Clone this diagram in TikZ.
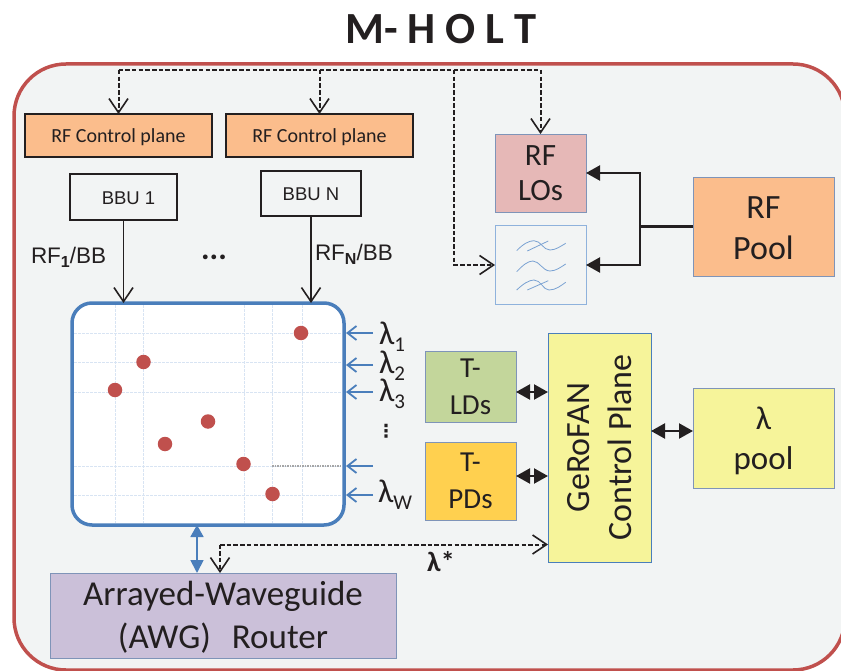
\documentclass[tikz,border=0pt]{standalone}
\usepackage{fontspec}
\setmainfont{Carlito}
\newfontfamily\arialf{Liberation Sans}
\newfontfamily\dejavuf{DejaVu Sans}
\usetikzlibrary{arrows.meta,calc}
\definecolor{ink}{HTML}{231F20}
\definecolor{panelfill}{HTML}{F2F4F4}
\definecolor{redline}{HTML}{C0504D}
\definecolor{blueline}{HTML}{4A7EBB}
\definecolor{pale}{HTML}{8FB2DC}
\definecolor{greyblue}{HTML}{7F94B8}
\definecolor{orangefill}{HTML}{FBBD8C}
\definecolor{pinkfill}{HTML}{E6B8B7}
\definecolor{greenfill}{HTML}{C3D69B}
\definecolor{goldfill}{HTML}{FFD04F}
\definecolor{yellowfill}{HTML}{F6F49A}
\definecolor{purplefill}{HTML}{CBC0D9}
\newcommand{\fs}[1]{\fontsize{#1}{#1}\selectfont}
\newcommand{\dn}[2]{\raisebox{-#1pt}[\height][\depth]{#2}}
\newcommand{\lamsub}[1]{λ\raisebox{-7pt}[0pt][0pt]{\fs{21}#1}}
\tikzset{
  x=1pt,y=-1pt,
  every node/.style={text=ink,inner sep=0pt,outer sep=0pt,align=center},
  box/.style args={#1x#2}{minimum width=#1pt,minimum height=#2pt,anchor=center},
  ctrlbox/.style={box=187x43,fill=orangefill,draw=ink,line width=1.4pt,font=\fs{20}},
  bbubox/.style={draw=ink,fill=panelfill,line width=1.4pt,font=\arialf\fs{18.5}},
  softbox/.style={draw=greyblue,line width=0.8pt},
  bluebox/.style={draw=blueline,line width=1pt},
  open/.style={-{Straight Barb[length=14pt,width=19pt,line width=1.6pt]}},
  dashline/.style={draw=ink,line width=2pt,dash pattern=on 4.5pt off 2.2pt},
  solid1/.style={draw=ink,line width=1.7pt},
  heavy/.style={draw=ink,line width=2.2pt},
  filltip/.style={-{Triangle[length=14pt,width=15pt]}},
  fillboth/.style={{Triangle[length=14pt,width=15pt]}-{Triangle[length=14pt,width=15pt]}},
  wl/.style={draw=blueline,line width=1.8pt,-{Straight Barb[length=9pt,width=14pt,line width=1.8pt]}},
  gridl/.style={draw=pale!35,line width=0.7pt,dash pattern=on 2.5pt off 1.5pt},
  dot/.style={circle,fill=redline,minimum size=14.5pt},
  wave/.style={draw=pale!70!blueline,line width=0.8pt},
  lamlbl/.style={font=\fs{33},anchor=base west},
}
\begin{document}
\begin{tikzpicture}
\useasboundingbox (0,0) rectangle (841,671);
\clip (0,0) rectangle (841,671);
\draw[draw=redline,fill=panelfill,line width=3.5pt,rounded corners=52pt] (14,64) rectangle (845,670);
\node[font=\bfseries\fs{44.5}] (title) at (441,29) {M- H O L T};

\node[ctrlbox] (rf1) at (118.5,135.5) {\dn{2}{RF Control plane}};
\node[ctrlbox] (rf2) at (319.5,135.5) {\dn{2}{RF Control plane}};
\node[bbubox,box=107x46] (bbu1) at (123.5,197) {\hspace*{10pt}\dn{1}{BBU 1}};
\node[bbubox,box=100x45] (bbuN) at (311,193.5) {\dn{1}{BBU N}};
\node[softbox,box=91x78,fill=pinkfill,font=\fs{31}] (los) at (540.5,173) {RF\\[4pt]LOs};
\node[box=91x78,draw=pale,line width=1pt,fill=panelfill] (filt) at (540.5,265) {};
\node[softbox,box=141x99,fill=orangefill,font=\fs{34}] (pool) at (763.5,226.5) {\dn{2}{RF}\\[7pt]\dn{2}{Pool}};

\draw[wave] (516.7,250.7) .. controls (523,244) and (529,240.7) .. (534,240.7) .. controls (541,240.7) and (543,250) .. (550,250) .. controls (556,250) and (561,246) .. (565.7,243.3);
\draw[wave] (527.3,251) -- (548.3,241);
\draw[wave] (516.7,271.7) .. controls (523,265) and (528,261) .. (533,261) .. controls (539,261) and (543,271) .. (550,271) .. controls (556,271) and (561,267) .. (565.7,264);
\draw[wave] (516.7,290) .. controls (523,284) and (529,280) .. (534,280) .. controls (541,280) and (543,290) .. (549,290) .. controls (556,290) and (561,285.5) .. (565.7,282.3);
\draw[wave] (527.3,290) -- (548.3,280.7);

\node[draw=blueline,fill=white,line width=3.5pt,rounded corners=20pt,box=272x222] (matrix) at (208,414) {};
\foreach \v in {115,143,244,272,302}{
  \draw[gridl] (\v,305) -- (\v,523);
}
\foreach \h in {333,362,392,466,495}{
  \draw[gridl] (74,\h) -- (342,\h);
}
\draw[draw=black!35,line width=1.2pt,dash pattern=on 1.5pt off 1pt] (272,466) -- (342,466);
\node[dot] (d1) at (301,333) {};
\node[dot] (d2) at (143.5,362) {};
\node[dot] (d3) at (115,390) {};
\node[dot] (d4) at (208,421.5) {};
\node[dot] (d5) at (165,444) {};
\node[dot] (d6) at (243.5,464) {};
\node[dot] (d7) at (272.5,494) {};

\node[softbox,box=91x71,fill=greenfill,font=\fs{29}] (ld) at (470.5,386.5) {T-\\[8pt]LDs};
\node[softbox,box=91x78,fill=goldfill,font=\fs{29}] (pd) at (470.5,481) {T-\\[8pt]PDs};
\node[bluebox,box=103x229,fill=yellowfill] (ctrl) at (599.5,447.5) {};
\node[font=\fs{34},rotate=90] (ctrltxt) at (600,447.5) {GeRoFAN\\[8pt]Control Plane};
\node[softbox,box=141x100,fill=yellowfill,font=\fs{33}] (lam) at (763.5,438) {\dn{3}{λ}\\[7pt]\dn{3}{pool}};
\node[softbox,box=346x85,fill=purplefill,font=\fs{35}] (awg) at (223,615.5) {\dn{2}{Arrayed-Waveguide}\\[8pt]\dn{2}{(AWG)\hspace{0.6em}Router}};

% dashed control lines
\coordinate (trL) at (rf1.north |- 0,70);
\coordinate (trM) at (rf2.north |- 0,70);
\coordinate (trB) at (454,70);
\coordinate (trR) at (los.north |- 0,70);
\coordinate (filtcorner) at (trB |- filt.west);
\draw[dashline] (trL) -- (trR);
\draw[dashline,open] (trL) -- (rf1.north);
\draw[dashline,open] (trM) -- (rf2.north);
\draw[dashline,open] (trR) -- (los.north);
\draw[dashline,open] (trB) -- (filtcorner) -- (filt.west);
% BBU to matrix
\draw[solid1,open] (bbu1.south) -- (bbu1.south |- matrix.north);
\draw[solid1,open] (bbuN.south) -- (bbuN.south |- matrix.north);
\node[font=\arialf\fs{22.5},anchor=west] (rf1lbl) at (31,257) {RF\raisebox{-4pt}{\bfseries\fs{16}1}/BB};
\node[font=\arialf\fs{22.5},anchor=west] (rfnlbl) at (315,254) {RF\raisebox{-4pt}{\bfseries\fs{16}N}/BB};
\node[font=\bfseries\fs{32}] (dots) at (214,257) {...};

% RF pool feed
\coordinate (feed) at (640,0 |- pool.west);
\draw[heavy] (pool.west) -- (feed);
\draw[heavy,filltip] (feed) -- (640,173) -- (los.east);
\draw[heavy,filltip] (feed) -- (640,265) -- (filt.east);

% wavelength inputs
\foreach \n/\yy in {a/333,b/365,c/392,d/466,e/495}{
  \coordinate (w\n) at (373,\yy);
  \coordinate (m\n) at (matrix.east |- w\n);
  \draw[wl] (w\n) -- ($(m\n)+(2,0)$);
}
\node[lamlbl] (l1) at (379,344) {\lamsub{1}};
\node[lamlbl] (l2) at (379,373) {\lamsub{2}};
\node[lamlbl] (l3) at (379,401) {\lamsub{3}};
\node[font=\dejavuf\bfseries\fs{18}] (vd) at (386,431) {⋮};
\node[lamlbl] (lw) at (378,502) {\lamsub{W}};

% bidirectional black
\draw[heavy,fillboth] (ld.east |- 0,392) -- (ctrl.west |- 0,392);
\draw[heavy,fillboth] (pd.east |- 0,476) -- (ctrl.west |- 0,476);
\draw[heavy,fillboth] (ctrl.east |- 0,431) -- (lam.west |- 0,431);

% matrix to AWG
\coordinate (mb) at (197,525);
\draw[draw=blueline,line width=1.8pt,{Triangle[length=12pt,width=13pt,fill=blueline]}-{Triangle[length=13pt,width=13pt,fill=blueline]}] (mb |- matrix.south) -- (mb |- awg.north);

% lambda star
\coordinate (sc) at (220,544.5);
\draw[dashline,open] (sc) -- (sc |- awg.north);
\draw[dashline,open] (sc) -- (sc -| ctrl.west);
\node[font=\bfseries\fs{28}] (ls) at (441,562) {λ*};
\end{tikzpicture}
\end{document}
